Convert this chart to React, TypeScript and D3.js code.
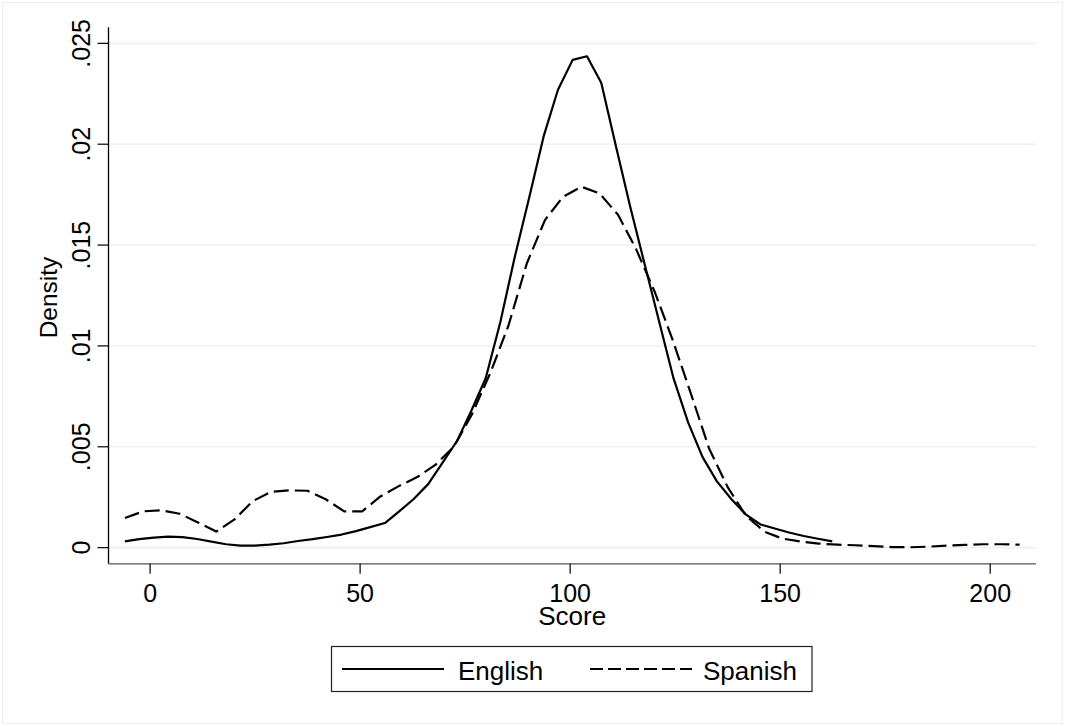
import React from "react";
import * as d3 from "d3";

const englishScore = [-6, -2.6, 0.9, 4.3, 7.7, 11.2, 14.6, 18.1, 21.5, 24.9, 28.4, 31.8, 35.2, 38.7, 42.1, 45.6, 49.0, 52.4, 55.9, 59.3, 62.7, 66.2, 69.6, 73.1, 76.5, 79.9, 83.4, 86.8, 90.3, 93.7, 97.1, 100.6, 104.0, 107.4, 110.9, 114.3, 117.8, 121.2, 124.6, 128.1, 131.5, 134.9, 138.4, 141.8, 145.3, 148.7, 152.1, 155.6, 159.0, 162.4];
const englishDensity = [0.00031, 0.00042, 0.0005, 0.00055, 0.00052, 0.00043, 0.0003, 0.00017, 0.0001, 0.0001, 0.00015, 0.00022, 0.00033, 0.00042, 0.00053, 0.00065, 0.00082, 0.00102, 0.00122, 0.0018, 0.0024, 0.00315, 0.0042, 0.0053, 0.0068, 0.0084, 0.0112, 0.0144, 0.0174, 0.0204, 0.0227, 0.02418, 0.02436, 0.02305, 0.0199, 0.0169, 0.0140, 0.0112, 0.0084, 0.0062, 0.0045, 0.0033, 0.0024, 0.00165, 0.00115, 0.00095, 0.00075, 0.00058, 0.00044, 0.00031];

const spanishScore = [-6, -1.65, 2.7, 7.05, 11.4, 15.75, 20.1, 24.4, 28.8, 33.1, 37.5, 41.8, 46.2, 50.5, 54.9, 59.2, 63.6, 67.9, 72.3, 76.6, 81.0, 85.3, 89.7, 94.0, 98.3, 102.7, 107.0, 111.4, 115.7, 120.1, 124.4, 128.8, 133.1, 137.5, 141.8, 146.2, 150.5, 154.9, 159.2, 163.6, 167.9, 172.3, 176.6, 181.0, 185.3, 189.7, 194.0, 198.3, 202.7, 207.0];
const spanishDensity = [0.00147, 0.0018, 0.00185, 0.00168, 0.00125, 0.0008, 0.0014, 0.0023, 0.00277, 0.00284, 0.00282, 0.0024, 0.0018, 0.0018, 0.00255, 0.00305, 0.0035, 0.0041, 0.005, 0.0066, 0.00866, 0.011, 0.0141, 0.01624, 0.01739, 0.01789, 0.01756, 0.0165, 0.0148, 0.0127, 0.0103, 0.0076, 0.0049, 0.003, 0.0016, 0.0008, 0.00045, 0.0003, 0.0002, 0.00015, 0.00012, 0.00008, 0.00003, 0.00002, 0.00005, 0.0001, 0.00014, 0.00017, 0.00017, 0.00015];

const xTicks = [0, 50, 100, 150, 200];
const yTicks = [0, 0.005, 0.01, 0.015, 0.02, 0.025];
const yTickLabels = ["0", ".005", ".01", ".015", ".02", ".025"];
const seriesNames = ["English", "Spanish"];

const FONT = "'Liberation Sans', Arial, Helvetica, sans-serif";
const DASH = "15 6";

export default function App() {
  const x = d3.scaleLinear().domain([-9.9, 210.9]).range([108.5, 1036]);
  const y = d3.scaleLinear().domain([-0.0008, 0.0258]).range([563.8, 27.2]);
  const [x0, x1] = x.range();
  const [y0, y1] = y.range();

  const line = d3
    .line<[number, number]>()
    .x((d) => x(d[0]))
    .y((d) => y(d[1]))
    .curve(d3.curveLinear);

  const eng: [number, number][] = englishScore.map((s, i) => [s, englishDensity[i]]);
  const spa: [number, number][] = spanishScore.map((s, i) => [s, spanishDensity[i]]);

  const legendY = 669;

  return (
    <svg
      width={1065}
      height={726}
      style={{ position: "absolute", left: 0, top: 0, background: "#fff" }}
      fontFamily={FONT}
    >
      <rect x={0} y={0} width={1065} height={726} fill="#fff" />
      <rect x={2.5} y={2.5} width={1060} height={721} fill="none" stroke="#eeeeee" strokeWidth={1} />

      {yTicks.map((t) => (
        <line key={"g" + t} x1={x0} x2={x1} y1={y(t)} y2={y(t)} stroke="#eaf2f3" strokeWidth={1.6} />
      ))}

      <line x1={x0} x2={x0} y1={y0} y2={y1} stroke="#000" strokeWidth={1.3} />
      <line x1={x0} x2={x1} y1={y0} y2={y0} stroke="#555" strokeWidth={1.3} />

      {yTicks.map((t, i) => (
        <g key={"yt" + t}>
          <line x1={x0 - 11} x2={x0} y1={y(t)} y2={y(t)} stroke="#000" strokeWidth={1.2} />
          <text
            transform={`translate(${90},${y(t)}) rotate(-90)`}
            textAnchor="middle"
            fontSize={25}
            fill="#000"
          >
            {yTickLabels[i]}
          </text>
        </g>
      ))}

      {xTicks.map((t) => (
        <g key={"xt" + t}>
          <line x1={x(t)} x2={x(t)} y1={y0} y2={y0 + 10} stroke="#000" strokeWidth={1.2} />
          <text x={x(t)} y={602} textAnchor="middle" fontSize={25} fill="#000">
            {t}
          </text>
        </g>
      ))}

      <text x={(x0 + x1) / 2} y={625} textAnchor="middle" fontSize={26} fill="#000">
        Score
      </text>
      <text
        transform={`translate(${57},${(y0 + y1) / 2 + 2}) rotate(-90)`}
        textAnchor="middle"
        fontSize={24.5}
        fill="#000"
      >
        Density
      </text>

      <path d={line(eng) ?? ""} fill="none" stroke="#000" strokeWidth={2.2} strokeLinejoin="round" />
      <path
        d={line(spa) ?? ""}
        fill="none"
        stroke="#000"
        strokeWidth={2.2}
        strokeDasharray={DASH}
        strokeLinejoin="round"
      />

      <rect x={331.5} y={646.5} width={480.5} height={45} fill="#fff" stroke="#222" strokeWidth={1.2} />
      <line x1={342} x2={444} y1={legendY} y2={legendY} stroke="#000" strokeWidth={2.2} />
      <text x={458} y={680} fontSize={26} fill="#000">
        {seriesNames[0]}
      </text>
      <line x1={590} x2={692} y1={legendY} y2={legendY} stroke="#000" strokeWidth={2.2} strokeDasharray="13 5" />
      <text x={703} y={680} fontSize={26} fill="#000">
        {seriesNames[1]}
      </text>
    </svg>
  );
}
